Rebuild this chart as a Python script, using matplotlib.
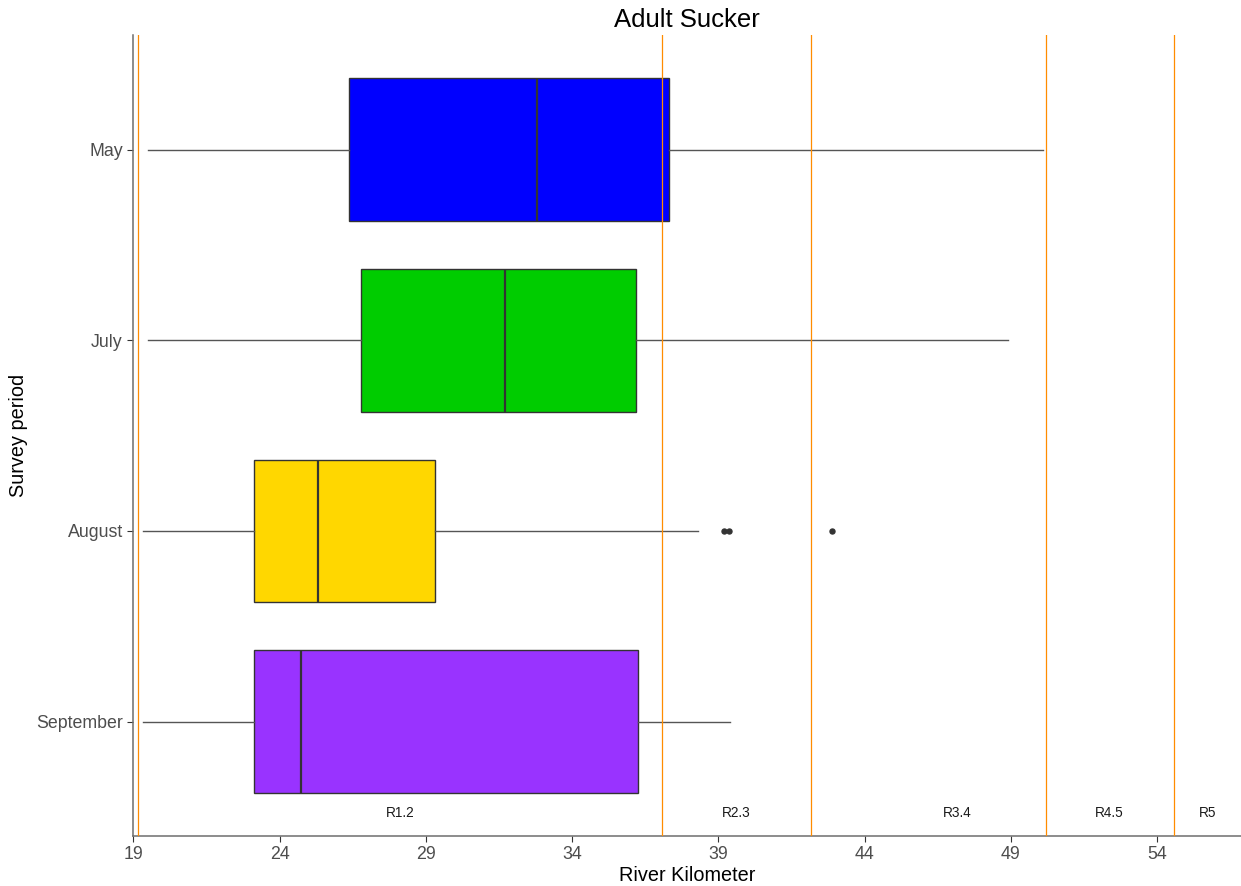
import matplotlib
matplotlib.use("Agg")
import matplotlib.pyplot as plt

plt.rcParams['font.family'] = ['Liberation Sans', 'DejaVu Sans']

# survey periods, bottom to top
periods = ['September', 'August', 'July', 'May']
box_colors = ['#9933FF', '#FFD700', '#00CC00', '#0000FF']

# box statistics (river km)
whislo = [19.34, 19.34, 19.5, 19.5]
q1 = [23.14, 23.14, 26.8, 26.36]
med = [24.75, 25.3, 31.7, 32.8]
q3 = [36.24, 29.3, 36.2, 37.3]
whishi = [39.39, 38.32, 48.9, 50.1]
outliers = [[], [39.19, 39.38, 42.9], [], []]

# reach boundaries and reach labels
reach_breaks = [19.17, 37.09, 42.18, 50.19, 54.59]
reach_names = ['R1.2', 'R2.3', 'R3.4', 'R4.5', 'R5']
reach_label_x = [28.12, 39.6, 47.17, 52.37, 55.74]

x_ticks = [19, 24, 29, 34, 39, 44, 49, 54]

fig = plt.figure(figsize=(12.41, 8.86), dpi=100)
ax = fig.add_axes([0.1074, 0.0565, 0.8926, 0.9035])

stats = []
for i in range(len(periods)):
    stats.append({'whislo': whislo[i], 'q1': q1[i], 'med': med[i],
                  'q3': q3[i], 'whishi': whishi[i], 'fliers': outliers[i]})

pos = list(range(1, len(periods) + 1))
bp = ax.bxp(stats, positions=pos, vert=False, widths=0.75, patch_artist=True,
            showcaps=False,
            boxprops=dict(edgecolor='#333333', linewidth=1.0),
            medianprops=dict(color='#333333', linewidth=1.6),
            whiskerprops=dict(color='#555555', linewidth=1.0),
            flierprops=dict(marker='o', markersize=3.6, markerfacecolor='#333333',
                            markeredgecolor='#333333'))
for patch, c in zip(bp['boxes'], box_colors):
    patch.set_facecolor(c)

for xb in reach_breaks:
    ax.axvline(xb, color='#FF8C00', linewidth=0.9, zorder=5)

for name, xl in zip(reach_names, reach_label_x):
    ax.text(xl, 0.52, name, ha='center', va='center', fontsize=9.8, color='#1a1a1a')

ax.set_xlim(19, 56.87)
ax.set_ylim(0.4, 4.6)
ax.set_xticks(x_ticks)
ax.set_yticks(pos)
ax.set_yticklabels(periods)
ax.tick_params(axis='both', labelsize=12.8, labelcolor='#4D4D4D', color='#333333',
               length=4, width=0.8)

for side in ['top', 'right']:
    ax.spines[side].set_visible(False)
for side in ['left', 'bottom']:
    ax.spines[side].set_color('#6E6E6E')
    ax.spines[side].set_linewidth(1.1)

ax.set_xlabel('River Kilometer', fontsize=14.3, color='black', labelpad=2)
ax.set_ylabel('Survey period', fontsize=14.3, color='black', labelpad=6)
ax.set_title('Adult Sucker', fontsize=18.5, color='black', pad=6)

fig.savefig('out.png', dpi=100)
